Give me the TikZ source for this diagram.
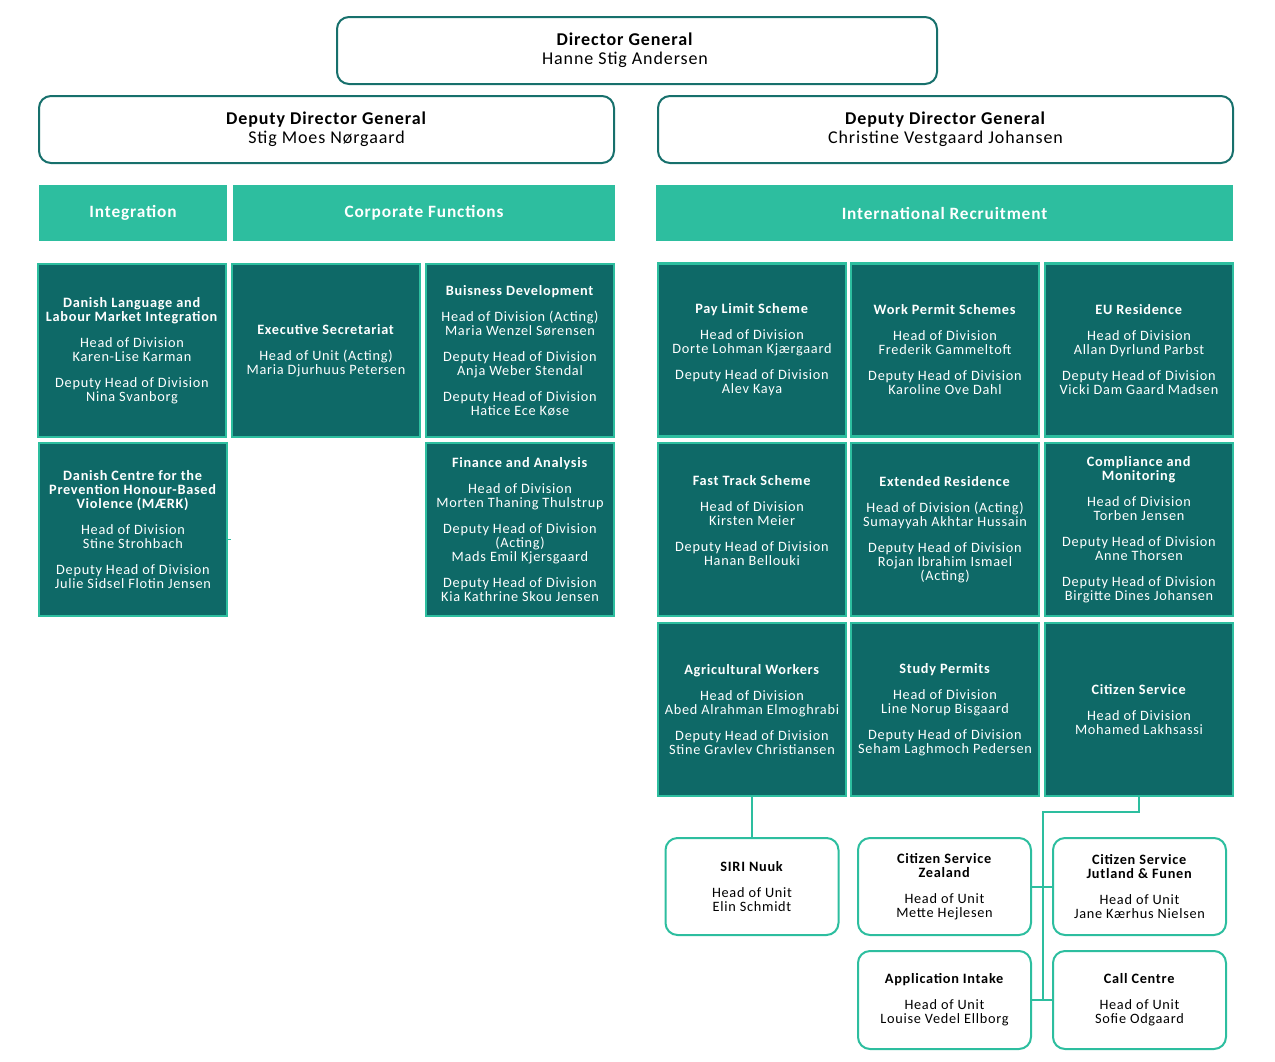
\documentclass[tikz,border=0pt]{standalone}
\usepackage{fontspec}
\setmainfont{Carlito}[LetterSpace=5]
\definecolor{darkteal}{HTML}{0E6967}
\definecolor{hdrgreen}{HTML}{2DBE9F}
\definecolor{dgteal}{HTML}{17706C}
\tikzset{
  topbox/.style={draw=dgteal, line width=2pt, rounded corners=12pt, fill=white, align=center,
    minimum height=67, inner sep=0pt, font=\fontsize{18}{19}\selectfont},
  toptext/.style={align=center, inner sep=0pt, font=\fontsize{18}{19}\selectfont},
  hdr/.style={fill=hdrgreen, text=white, minimum height=56, inner sep=0pt,
    font=\fontsize{17.3}{19}\selectfont\bfseries},
  dbox/.style={fill=darkteal, draw=hdrgreen, line width=2.5pt, text=white, align=center,
    minimum width=188, minimum height=173, inner sep=0pt, font=\fontsize{14.3}{14}\selectfont},
  ubox/.style={draw=hdrgreen, line width=2pt, rounded corners=12pt, fill=white, align=center,
    minimum width=173, inner sep=0pt, font=\fontsize{14.3}{14}\selectfont},
  conn/.style={draw=hdrgreen, line width=2pt}
}
\begin{document}
\begin{tikzpicture}[x=1pt,y=-1pt]
\useasboundingbox (0,0) rectangle (1275,1061);
% top
\node[topbox, minimum width=600] (dg) at (637,50.5) {};
\node[toptext] (dgt) at (625,50) {\textbf{Director General}\\Hanne Stig Andersen};
\node[topbox, minimum width=575] (ddgl) at (326.5,129.5) {\textbf{Deputy Director General}\\Stig Moes Nørgaard};
\node[topbox, minimum width=575] (ddgr) at (945.5,129.5) {\textbf{Deputy Director General}\\Christine Vestgaard Johansen};
% headers
\node[hdr, minimum width=188] (hint) at (133,213) {Integration};
\node[hdr, minimum width=382] (hcf) at (424,213) {Corporate Functions};
\node[hdr, minimum width=577] (hir) at (944.5,213) {International Recruitment};
% left dark boxes
\node[dbox] (dl) at (132,350.5) {\textbf{Danish Language and}\\\textbf{Labour Market Integration}\\[12pt]Head of Division\\Karen-Lise Karman\\[12pt]Deputy Head of Division\\Nina Svanborg};
\node[dbox] (es) at (326,350.5) {\textbf{Executive Secretariat}\\[12pt]Head of Unit (Acting)\\Maria Djurhuus Petersen};
\node[dbox] (bd) at (520,350.5) {\textbf{Buisness Development}\\[12pt]Head of Division (Acting)\\Maria Wenzel Sørensen\\[12pt]Deputy Head of Division\\Anja Weber Stendal\\[12pt]Deputy Head of Division\\Hatice Ece Køse};
\node[dbox] (dc) at (133,529.5) {\textbf{Danish Centre for the}\\\textbf{Prevention Honour-Based}\\\textbf{Violence (MÆRK)}\\[12pt]Head of Division\\Stine Strohbach\\[12pt]Deputy Head of Division\\Julie Sidsel Flotin Jensen};
\node[dbox] (fa) at (520,529.5) {\textbf{Finance and Analysis}\\[12pt]Head of Division\\Morten Thaning Thulstrup\\[12pt]Deputy Head of Division\\(Acting)\\Mads Emil Kjersgaard\\[12pt]Deputy Head of Division\\Kia Kathrine Skou Jensen};
% right dark boxes
\node[dbox] (pl) at (752,350) {\textbf{Pay Limit Scheme}\\[12pt]Head of Division\\Dorte Lohman Kjærgaard\\[12pt]Deputy Head of Division\\Alev Kaya};
\node[dbox] (wp) at (945,350) {\textbf{Work Permit Schemes}\\[12pt]Head of Division\\Frederik Gammeltoft\\[12pt]Deputy Head of Division\\Karoline Ove Dahl};
\node[dbox] (eu) at (1139,350) {\textbf{EU Residence}\\[12pt]Head of Division\\Allan Dyrlund Parbst\\[12pt]Deputy Head of Division\\Vicki Dam Gaard Madsen};
\node[dbox] (ft) at (752,529.5) {\textbf{Fast Track Scheme}\\[12pt]Head of Division\\Kirsten Meier\\[12pt]Deputy Head of Division\\Hanan Bellouki\\[4pt]\mbox{}};
\node[dbox] (er) at (945,529.5) {\textbf{Extended Residence}\\[12pt]Head of Division (Acting)\\Sumayyah Akhtar Hussain\\[12pt]Deputy Head of Division\\Rojan Ibrahim Ismael\\(Acting)};
\node[dbox] (cm) at (1139,529.5) {\textbf{Compliance and}\\\textbf{Monitoring}\\[12pt]Head of Division\\Torben Jensen\\[12pt]Deputy Head of Division\\Anne Thorsen\\[12pt]Deputy Head of Division\\Birgitte Dines Johansen};
\node[dbox] (aw) at (752,709.5) {\textbf{Agricultural Workers}\\[12pt]Head of Division\\Abed Alrahman Elmoghrabi\\[12pt]Deputy Head of Division\\Stine Gravlev Christiansen};
\node[dbox] (sp) at (945,709.5) {\textbf{Study Permits}\\[12pt]Head of Division\\Line Norup Bisgaard\\[12pt]Deputy Head of Division\\Seham Laghmoch Pedersen};
\node[dbox] (cs) at (1139,709.5) {\textbf{Citizen Service}\\[12pt]Head of Division\\Mohamed Lakhsassi};
% bottom units
\node[ubox, minimum height=97] (nuuk) at (752,886.5) {\textbf{SIRI Nuuk}\\[12pt]Head of Unit\\Elin Schmidt};
\node[ubox, minimum height=97] (zea) at (944.5,886.5) {\textbf{Citizen Service}\\\textbf{Zealand}\\[12pt]Head of Unit\\Mette Hejlesen};
\node[ubox, minimum height=97] (jut) at (1139.5,886.5) {\textbf{Citizen Service}\\\textbf{Jutland \& Funen}\\[12pt]Head of Unit\\Jane Kærhus Nielsen};
\node[ubox, minimum height=98] (ai) at (944.5,1000) {\textbf{Application Intake}\\[12pt]Head of Unit\\Louise Vedel Ellborg};
\node[ubox, minimum height=98] (cc) at (1139.5,1000) {\textbf{Call Centre}\\[12pt]Head of Unit\\Sofie Odgaard};
% connectors
\coordinate (bustop) at (1043,812);
\coordinate (busbot) at (1043,1000);
\draw[conn] (aw.south) -- (nuuk.north);
\draw[conn] (cs.south) |- (bustop) -- (busbot);
\draw[conn] (zea.east) -- (jut.west);
\draw[conn] (ai.east) -- (cc.west);
\coordinate (stub) at (231,539);
\draw[draw=hdrgreen, line width=1pt] (dc.east |- stub) -- (stub);
\end{tikzpicture}
\end{document}
